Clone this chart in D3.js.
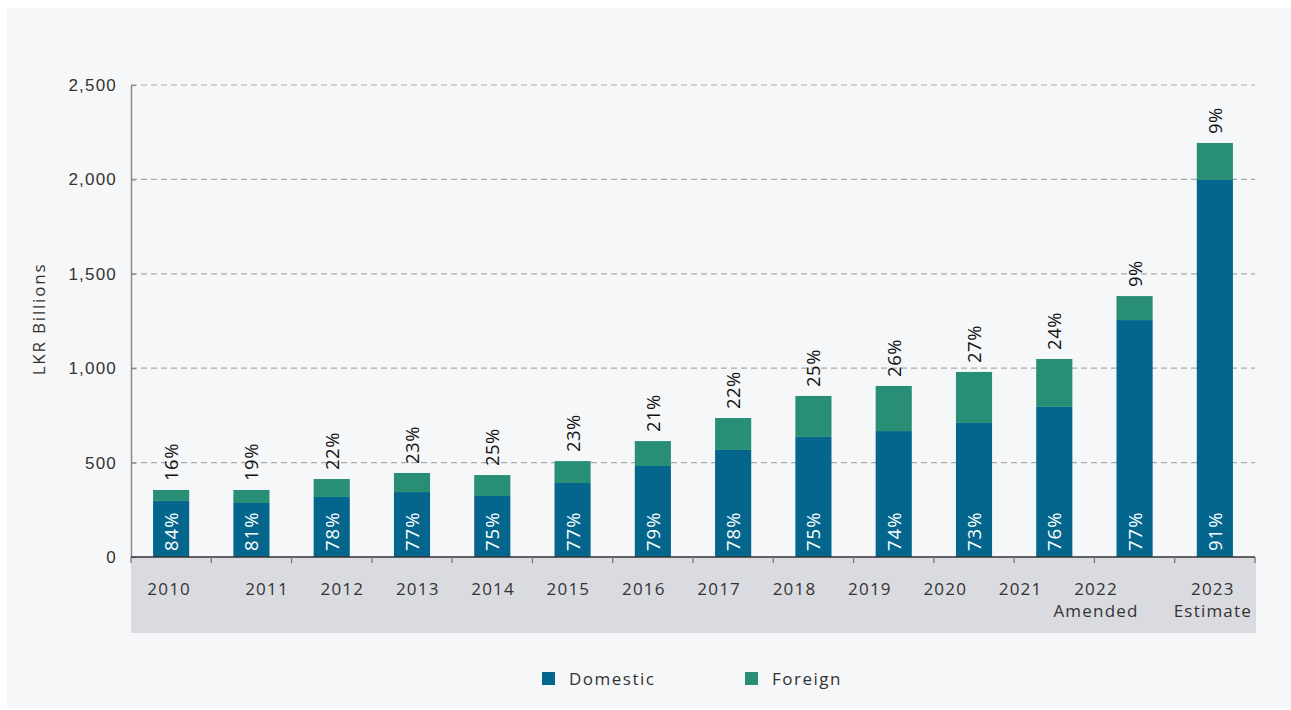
<!DOCTYPE html>
<html><head><meta charset="utf-8">
<script src="https://cdn.jsdelivr.net/npm/d3@7"></script>
<style>body{margin:0;background:#fff;font-family:"Open Sans","Noto Sans",sans-serif}</style>
</head><body><svg id="c" width="1291" height="710"></svg>
<script>
const categories = ["2010","2011","2012","2013","2014","2015","2016","2017","2018","2019","2020","2021","2022|Amended","2023|Estimate"];
const domestic = [297,286,318,344,323,392,482,567,636,667,710,795,1255,1997];
const foreign = [58,69,95,101,111,116,132,169,217,239,270,254,127,196];
const domesticPct = ["84%","81%","78%","77%","75%","77%","79%","78%","75%","74%","73%","76%","77%","91%"];
const foreignPct = ["16%","19%","22%","23%","25%","23%","21%","22%","25%","26%","27%","24%","9%","9%"];
const yTicks = [0,500,1000,1500,2000,2500];
const seriesNames = ["Domestic","Foreign"];
const colors = ["#05668d","#288e75"];

const svg = d3.select("#c");
svg.append("rect").attr("x",7).attr("y",8).attr("width",1284).attr("height",700).attr("fill","#f6f7f9");

const L=131,R=1255,T=85,B=557;
const x = d3.scaleBand().domain(categories).range([L,R]).paddingInner(0.55).paddingOuter(0.275);
const y = d3.scaleLinear().domain([0,2500]).range([B,T]);
const fmt = d3.format(",");

// category strip
svg.append("rect").attr("x",L).attr("y",B).attr("width",R-L+1).attr("height",76).attr("fill","#d9dbe1");

// gridlines
svg.append("g").selectAll("line").data(yTicks.filter(d=>d>0)).join("line")
 .attr("x1",L).attr("x2",R).attr("y1",d=>y(d)).attr("y2",d=>y(d))
 .attr("stroke","#a9a9a9").attr("stroke-width",1.2).attr("stroke-dasharray","6,4");

// y axis
const ya = svg.append("g").attr("transform",`translate(${L},0)`).call(d3.axisLeft(y).tickValues(yTicks).tickFormat(fmt).tickSizeInner(-5).tickSizeOuter(0).tickPadding(14));
ya.select(".domain").attr("stroke","#8a8a8a").attr("stroke-width",1.5);
ya.selectAll(".tick line").attr("stroke","#8a8a8a").attr("stroke-width",1.2);
ya.selectAll("text").attr("font-size",17).attr("fill","#333").attr("letter-spacing","1.2px");

svg.append("text").attr("transform",`translate(45,${(T+B)/2-2}) rotate(-90)`).attr("text-anchor","middle")
 .attr("font-size",17).attr("letter-spacing","1.8px").attr("fill","#333").text("LKR Billions");

// bars
const stackData = categories.map((c,i)=>({c,Domestic:domestic[i],Foreign:foreign[i]}));
const stack = d3.stack().keys(seriesNames)(stackData);
svg.append("g").selectAll("g").data(stack).join("g").attr("fill",(d,i)=>colors[i])
 .selectAll("rect").data(d=>d).join("rect")
 .attr("x",d=>x(d.data.c)).attr("width",x.bandwidth())
 .attr("y",d=>y(d[1])).attr("height",d=>y(d[0])-y(d[1]));

// x axis line + ticks
const xa = svg.append("g");
xa.append("line").attr("x1",L).attr("x2",R).attr("y1",B).attr("y2",B).attr("stroke","#333").attr("stroke-width",1.5);
const tickPos = categories.map(c=>x(c)-x.step()*x.paddingInner()/2).concat([R]);
xa.selectAll("line.t").data(tickPos).join("line").attr("class","t")
 .attr("x1",d=>d).attr("x2",d=>d).attr("y1",B).attr("y2",B+6).attr("stroke","#777").attr("stroke-width",1.3);

// category labels
const lblScale = d3.scalePoint().domain(categories.slice(1,13)).range([267,1096]);
const lblX = (c,i)=> (i===0||i===categories.length-1) ? x(c)+x.bandwidth()/2-2 : lblScale(c);
const lg = svg.append("g").selectAll("text").data(categories).join("text")
 .attr("x",(c,i)=>lblX(c,i)).attr("y",595).attr("text-anchor","middle").attr("font-size",17).attr("letter-spacing","1.2px").attr("fill","#333");
lg.each(function(c){
  const parts=c.split("|");
  const t=d3.select(this);
  parts.forEach((p,k)=>t.append("tspan").attr("x",t.attr("x")).attr("dy",k===0?0:22).text(p));
});

// domestic labels (inside, white)
svg.append("g").selectAll("text").data(categories).join("text")
 .attr("transform",(c)=>`translate(${x(c)+x.bandwidth()/2+7},${B-6}) rotate(-90)`)
 .attr("font-size",18.5).attr("letter-spacing","1px").attr("fill","#fff").text((c,i)=>domesticPct[i]);

// foreign labels (above, black)
svg.append("g").selectAll("text").data(categories).join("text")
 .attr("transform",(c,i)=>`translate(${x(c)+x.bandwidth()/2+7},${y(domestic[i]+foreign[i])-9}) rotate(-90)`)
 .attr("font-size",18.5).attr("letter-spacing","0.5px").attr("fill","#111").text((c,i)=>foreignPct[i]);

// legend
const legX = d3.scalePoint().domain(seriesNames).range([542,745]);
const leg = svg.append("g").selectAll("g").data(seriesNames).join("g").attr("transform",d=>`translate(${legX(d)},672)`);
leg.append("rect").attr("width",13).attr("height",13).attr("fill",(d,i)=>colors[i]);
leg.append("text").attr("x",27).attr("y",13).attr("font-size",17).attr("letter-spacing","1.5px").attr("fill","#333").text(d=>d);
</script></body></html>
